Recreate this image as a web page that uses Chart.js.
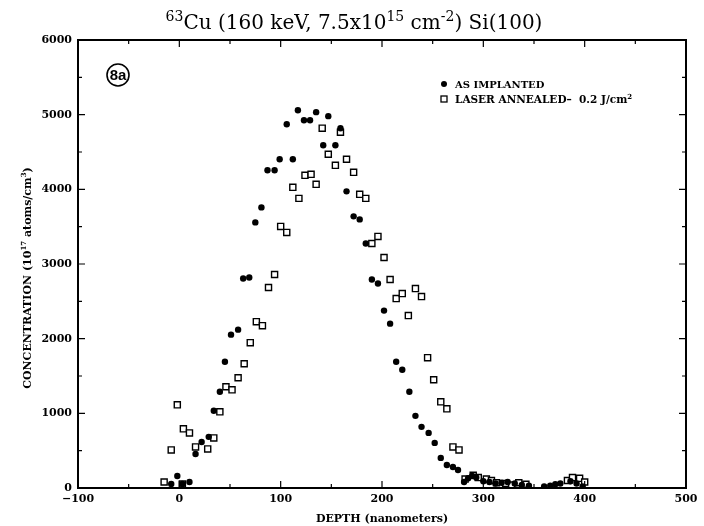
<!DOCTYPE html>
<html>
<head>
<meta charset="utf-8">
<script src="https://cdn.jsdelivr.net/npm/chart.js@4.4.1/dist/chart.umd.min.js"></script>
<style>
  html, body { margin: 0; padding: 0; background: #fff; }
  #wrap { width: 704px; height: 526px; position: relative; }
</style>
</head>
<body>
<div id="wrap"><canvas id="chart" width="704" height="526"></canvas></div>
<script>
// depth in nanometers, concentration in 1e17 atoms/cm3
const implantedDepth = [-8, -2, 3, 10, 16, 22, 29, 34, 40, 45, 51, 58, 63, 69, 75, 81, 87, 94, 99, 106, 112, 117, 123, 129, 135, 142, 147, 154, 159, 165, 172, 178, 184, 190, 196, 202, 208, 214, 220, 227, 233, 239, 246, 252, 258, 264, 270, 275,
  281, 285, 289, 293, 300, 306, 312, 318, 324, 331, 338, 345, 360, 366, 371, 376, 386, 392, 398];
const implantedConc = [54, 161, 54, 80, 456, 617, 685, 1034, 1289, 1691, 2054, 2121, 2805, 2819, 3557, 3758, 4255, 4255, 4403, 4872, 4403, 5060, 4926, 4926, 5034, 4591, 4980, 4591, 4819, 3973, 3638, 3597, 3275, 2792, 2738, 2376, 2201, 1691, 1584, 1289, 966, 819, 738, 604, 403, 309, 282, 242,
  80, 130, 160, 140, 90, 80, 60, 70, 80, 60, 40, 30, 20, 30, 50, 60, 90, 60, 20];

const annealedDepth = [-15, -8, -2, 3, 4, 10, 16, 28, 34, 40, 46, 52, 58, 64, 70, 76, 82, 88, 94, 100, 106, 112, 118, 124, 130, 135, 141, 147, 154, 159, 165, 172, 178, 184, 190, 196, 202, 208, 214, 220, 226, 233, 239, 245, 251, 258, 264, 270, 276,
  282, 290, 295, 303, 308, 313, 322, 328, 335, 342, 383, 388, 395, 400];
const annealedConc = [80, 510, 1114, 54, 792, 738, 550, 523, 671, 1020, 1356, 1315, 1477, 1664, 1946, 2228, 2174, 2685, 2859, 3503, 3423, 4027, 3879, 4188, 4201, 4067, 4819, 4470, 4322, 4765, 4403, 4228, 3933, 3879, 3275, 3369, 3087, 2792, 2537, 2604, 2309, 2671, 2564, 1745, 1450, 1154, 1060, 550, 510,
  120, 170, 140, 120, 100, 70, 60, 40, 70, 50, 100, 140, 130, 80];

const xTicks = [-100, 0, 100, 200, 300, 400, 500];
const yTicks = [0, 1000, 2000, 3000, 4000, 5000, 6000];

const serif = '"DejaVu Serif", "Liberation Serif", serif';

function toPoints(xs, ys) {
  return xs.map((x, i) => ({ x: x, y: ys[i] }));
}

// draws a run of text where some parts are raised
function drawRich(ctx, parts, x, y, size, align, weight) {
  const w = weight || 'bold';
  const supSize = Math.round(size * 0.68);
  let total = 0;
  parts.forEach(p => {
    ctx.font = w + ' ' + (p.sup ? supSize : size) + 'px ' + serif;
    total += ctx.measureText(p.t).width;
  });
  let cx = align === 'center' ? x - total / 2 : x;
  ctx.textAlign = 'left';
  ctx.textBaseline = 'alphabetic';
  parts.forEach(p => {
    ctx.font = w + ' ' + (p.sup ? supSize : size) + 'px ' + serif;
    ctx.fillText(p.t, cx, p.sup ? y - size * 0.42 : y);
    cx += ctx.measureText(p.t).width;
  });
}

const decorations = {
  id: 'decorations',
  afterDraw(chart) {
    const ctx = chart.ctx;
    const area = chart.chartArea;
    const xs = chart.scales.x;
    const ys = chart.scales.y;
    ctx.save();
    ctx.fillStyle = '#000';
    ctx.strokeStyle = '#000';

    // frame
    ctx.lineWidth = 2;
    ctx.strokeRect(area.left, area.top, area.right - area.left, area.bottom - area.top);

    // inward ticks on all four sides
    ctx.lineWidth = 1.2;
    ctx.beginPath();
    for (let v = -100; v <= 500; v += 50) {
      const px = xs.getPixelForValue(v);
      const len = v % 100 === 0 ? 7 : 4;
      ctx.moveTo(px, area.bottom); ctx.lineTo(px, area.bottom - len);
      ctx.moveTo(px, area.top); ctx.lineTo(px, area.top + len);
    }
    for (let v = 0; v <= 6000; v += 500) {
      const py = ys.getPixelForValue(v);
      const len = v % 1000 === 0 ? 7 : 4;
      ctx.moveTo(area.left, py); ctx.lineTo(area.left + len, py);
      ctx.moveTo(area.right, py); ctx.lineTo(area.right - len, py);
    }
    ctx.stroke();

    // title
    drawRich(ctx, [
      { t: '63', sup: true }, { t: 'Cu (160 keV, 7.5x10' }, { t: '15', sup: true },
      { t: ' cm' }, { t: '-2', sup: true }, { t: ') Si(100)' }
    ], 354, 29, 20, 'center', 'normal');

    // y axis title
    ctx.save();
    ctx.translate(27, 278);
    ctx.rotate(-Math.PI / 2);
    drawRich(ctx, [
      { t: 'CONCENTRATION (10' }, { t: '17', sup: true }, { t: ' atoms/cm' }, { t: '3', sup: true }, { t: ')' }
    ], 0, 4, 11, 'center');
    ctx.restore();

    // legend
    ctx.beginPath();
    ctx.arc(444, 84, 3, 0, Math.PI * 2);
    ctx.fill();
    ctx.lineWidth = 1.3;
    ctx.strokeRect(441, 96, 6, 6);
    drawRich(ctx, [{ t: 'AS IMPLANTED' }], 455, 88, 10, 'left');
    drawRich(ctx, [{ t: 'LASER ANNEALED\u2013  0.2 J/cm' }, { t: '2', sup: true }], 455, 103, 10.5, 'left');

    // panel label
    ctx.lineWidth = 1.6;
    ctx.beginPath();
    ctx.arc(118, 75, 11, 0, Math.PI * 2);
    ctx.stroke();
    ctx.font = 'bold 15px "Liberation Sans", "DejaVu Sans", sans-serif';
    ctx.textAlign = 'center';
    ctx.textBaseline = 'middle';
    ctx.fillText('8a', 118, 76);

    ctx.restore();
  }
};

new Chart(document.getElementById('chart'), {
  type: 'scatter',
  data: {
    datasets: [
      {
        label: 'AS IMPLANTED',
        data: toPoints(implantedDepth, implantedConc),
        pointStyle: 'circle',
        pointRadius: 3.2,
        backgroundColor: '#000',
        borderColor: '#000',
        borderWidth: 0
      },
      {
        label: 'LASER ANNEALED- 0.2 J/cm2',
        data: toPoints(annealedDepth, annealedConc),
        pointStyle: 'rect',
        pointRadius: 4.3,
        backgroundColor: '#fff',
        borderColor: '#000',
        borderWidth: 1.4
      }
    ]
  },
  options: {
    responsive: false,
    animation: false,
    devicePixelRatio: 1,
    layout: { padding: { top: 40, right: 18, left: 0, bottom: 0 } },
    plugins: {
      legend: { display: false },
      tooltip: { enabled: false }
    },
    scales: {
      x: {
        type: 'linear',
        min: -100,
        max: 500,
        afterBuildTicks: (scale) => { scale.ticks = xTicks.map(v => ({ value: v })); },
        afterFit: (scale) => { scale.height = 38; },
        grid: { display: false, drawTicks: false },
        border: { display: false },
        ticks: {
          color: '#000',
          padding: 5,
          maxRotation: 0,
          font: { family: serif, size: 11, weight: 'bold' },
          callback: (v) => (v < 0 ? '\u2212' + Math.abs(v) : String(v))
        },
        title: {
          display: true,
          text: 'DEPTH (nanometers)',
          color: '#000',
          padding: { top: 2, bottom: 0 },
          font: { family: serif, size: 11, weight: 'bold' }
        }
      },
      y: {
        type: 'linear',
        min: 0,
        max: 6000,
        afterBuildTicks: (scale) => { scale.ticks = yTicks.map(v => ({ value: v })); },
        afterFit: (scale) => { scale.width = 78; },
        grid: { display: false, drawTicks: false },
        border: { display: false },
        ticks: {
          color: '#000',
          padding: 6,
          font: { family: serif, size: 11, weight: 'bold' },
          callback: (v) => String(v)
        }
      }
    }
  },
  plugins: [decorations]
});
</script>
</body>
</html>
